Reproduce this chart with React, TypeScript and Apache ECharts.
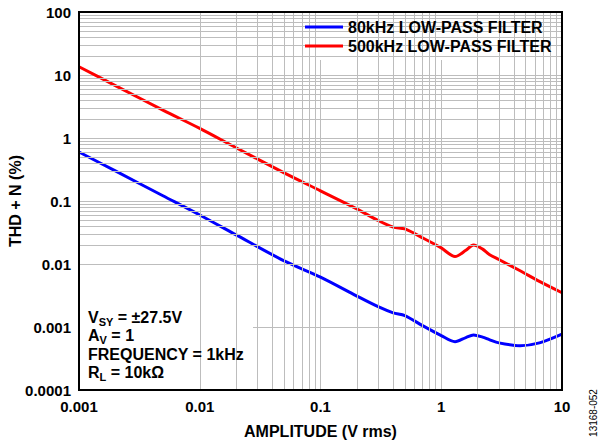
import React, { useEffect, useRef } from "react";
import * as echarts from "echarts";

const amplitude = [0.001, 0.002, 0.005, 0.01, 0.02, 0.05, 0.1, 0.2, 0.3, 0.4, 0.5, 0.7, 1, 1.3, 1.6, 1.85, 2.2, 2.5, 3, 4.5, 6.5, 10];
const thd500k = [13.5, 6.8, 2.75, 1.42, 0.7, 0.28, 0.145, 0.075, 0.049, 0.0385, 0.036, 0.026, 0.018, 0.0131, 0.0165, 0.02, 0.0172, 0.0142, 0.0118, 0.0078, 0.0053, 0.0035];
const thd80k = [0.6, 0.3, 0.12, 0.06, 0.029, 0.0112, 0.0062, 0.0031, 0.0021, 0.00168, 0.00152, 0.00105, 0.00073, 0.000585, 0.00068, 0.000745, 0.00069, 0.00063, 0.00056, 0.000505, 0.00056, 0.00077];

const xTickLabels = ["0.001", "0.01", "0.1", "1", "10"];
const yTickLabels = ["0.0001", "0.001", "0.01", "0.1", "1", "10", "100"];
const xDecades = [0.001, 0.01, 0.1, 1];
const yDecades = [0.0001, 0.001, 0.01, 0.1, 1, 10];
const minorSteps = [2, 3, 4, 5, 6, 7, 8, 9];

const seriesNames = ["80kHz LOW-PASS FILTER", "500kHz LOW-PASS FILTER"];

const FONT = "'Liberation Sans', Arial, sans-serif";

export default function App() {
  const ref = useRef<HTMLDivElement>(null);
  useEffect(() => {
    if (!ref.current) return;
    document.body.style.margin = "0";
    const chart = echarts.init(ref.current, undefined, { renderer: "svg" });
    const gridLeft = 79, gridTop = 12, gridW = 483, gridH = 378;

    const minorX: any[] = [];
    xDecades.forEach((d) => minorSteps.forEach((m) => minorX.push({ xAxis: +(d * m).toPrecision(3) })));
    const minorY: any[] = [];
    yDecades.forEach((d) => minorSteps.forEach((m) => minorY.push({ yAxis: +(d * m).toPrecision(3) })));

    const main = { fontSize: 16, fontWeight: "bold", fontFamily: FONT, color: "#000", verticalAlign: "top", lineHeight: 18 };
    const sub = { fontSize: 11, fontWeight: "bold", fontFamily: FONT, color: "#000", verticalAlign: "top", lineHeight: 11, padding: [7, 0, 0, 0] };

    const annotLines = [
      "{m|V}{s|SY}{m| = ±27.5V}",
      "{m|A}{s|V}{m| = 1}",
      "{m|FREQUENCY = 1kHz}",
      "{m|R}{s|L}{m| = 10kΩ}",
    ];

    chart.setOption({
      animation: false,
      textStyle: { fontFamily: FONT },
      grid: { left: gridLeft, top: gridTop, width: gridW, height: gridH, containLabel: false, outerBoundsMode: "none" },
      legend: {
        data: seriesNames,
        orient: "vertical",
        left: 305,
        top: 17.5,
        padding: 0,
        itemGap: 0,
        itemWidth: 38,
        itemHeight: 3,
        icon: "rect",
        z: 20,
        textStyle: { fontSize: 16, fontWeight: "bold", color: "#000", lineHeight: 19, fontFamily: FONT },
      },
      xAxis: {
        type: "log",
        logBase: 10,
        min: 0.001,
        max: 10,
        splitNumber: 4,
        name: "AMPLITUDE (V rms)",
        nameLocation: "middle",
        nameGap: 33,
        nameMoveOverlap: false,
        nameTextStyle: { fontSize: 16, fontWeight: "bold", color: "#000", fontFamily: FONT },
        axisLine: { show: false },
        axisTick: { show: false },
        axisLabel: {
          margin: 9,
          fontSize: 15,
          fontWeight: "bold",
          color: "#000",
          fontFamily: FONT,
          showMinLabel: true,
          showMaxLabel: true,
          formatter: (v: number) => xTickLabels[Math.round(Math.log10(v)) + 3] ?? "",
        },
        splitLine: { show: true, lineStyle: { color: "#bdbdbd", width: 1 } },
      },
      yAxis: {
        type: "log",
        logBase: 10,
        min: 0.0001,
        max: 100,
        splitNumber: 6,
        name: "THD + N (%)",
        nameLocation: "middle",
        nameRotate: 90,
        nameGap: 56,
        nameMoveOverlap: false,
        nameTextStyle: { fontSize: 16, fontWeight: "bold", color: "#000", fontFamily: FONT },
        axisLine: { show: false },
        axisTick: { show: false },
        axisLabel: {
          margin: 8,
          fontSize: 15,
          fontWeight: "bold",
          color: "#000",
          fontFamily: FONT,
          showMinLabel: true,
          showMaxLabel: true,
          formatter: (v: number) => yTickLabels[Math.round(Math.log10(v)) + 4] ?? "",
        },
        splitLine: { show: true, lineStyle: { color: "#bdbdbd", width: 1 } },
      },
      series: [
        {
          name: "grid",
          type: "line",
          data: [],
          z: 1,
          silent: true,
          markLine: {
            silent: true,
            symbol: "none",
            animation: false,
            label: { show: false },
            lineStyle: { color: "#bdbdbd", width: 1, type: "solid" },
            data: [...minorX, ...minorY],
          },
        },
        {
          name: seriesNames[0],
          type: "line",
          data: amplitude.map((a, i) => [a, thd80k[i]]),
          smooth: 0.3,
          showSymbol: false,
          z: 3,
          lineStyle: { color: "#0000ff", width: 3 },
          itemStyle: { color: "#0000ff" },
        },
        {
          name: seriesNames[1],
          type: "line",
          data: amplitude.map((a, i) => [a, thd500k[i]]),
          smooth: 0.3,
          showSymbol: false,
          z: 3,
          lineStyle: { color: "#ff0000", width: 3 },
          itemStyle: { color: "#ff0000" },
        },
      ],
      graphic: [
        { type: "rect", z: 5, silent: true, shape: { x: 300, y: gridTop, width: gridLeft + gridW - 300, height: 48 }, style: { fill: "#fff" } },
        { type: "rect", z: 5, silent: true, shape: { x: gridLeft, y: 305, width: 174, height: gridTop + gridH - 305 }, style: { fill: "#fff" } },
        ...annotLines.map((t, i) => ({
          type: "text",
          z: 6,
          silent: true,
          x: 88,
          y: 309.5 + i * 18.3,
          style: { text: t, rich: { m: main, s: sub }, verticalAlign: "top", align: "left" },
        })),
        {
          type: "rect",
          z: 30,
          silent: true,
          shape: { x: gridLeft, y: gridTop, width: gridW, height: gridH },
          style: { fill: "none", stroke: "#000", lineWidth: 2 },
        },
        {
          type: "text",
          z: 30,
          silent: true,
          x: 593,
          y: 413,
          rotation: Math.PI / 2,
          style: { text: "13168-052", fontSize: 10, fontFamily: FONT, fill: "#000", align: "center", verticalAlign: "middle" },
        },
      ],
    });
    return () => chart.dispose();
  }, []);
  return <div ref={ref} style={{ width: 600, height: 444 }} />;
}
